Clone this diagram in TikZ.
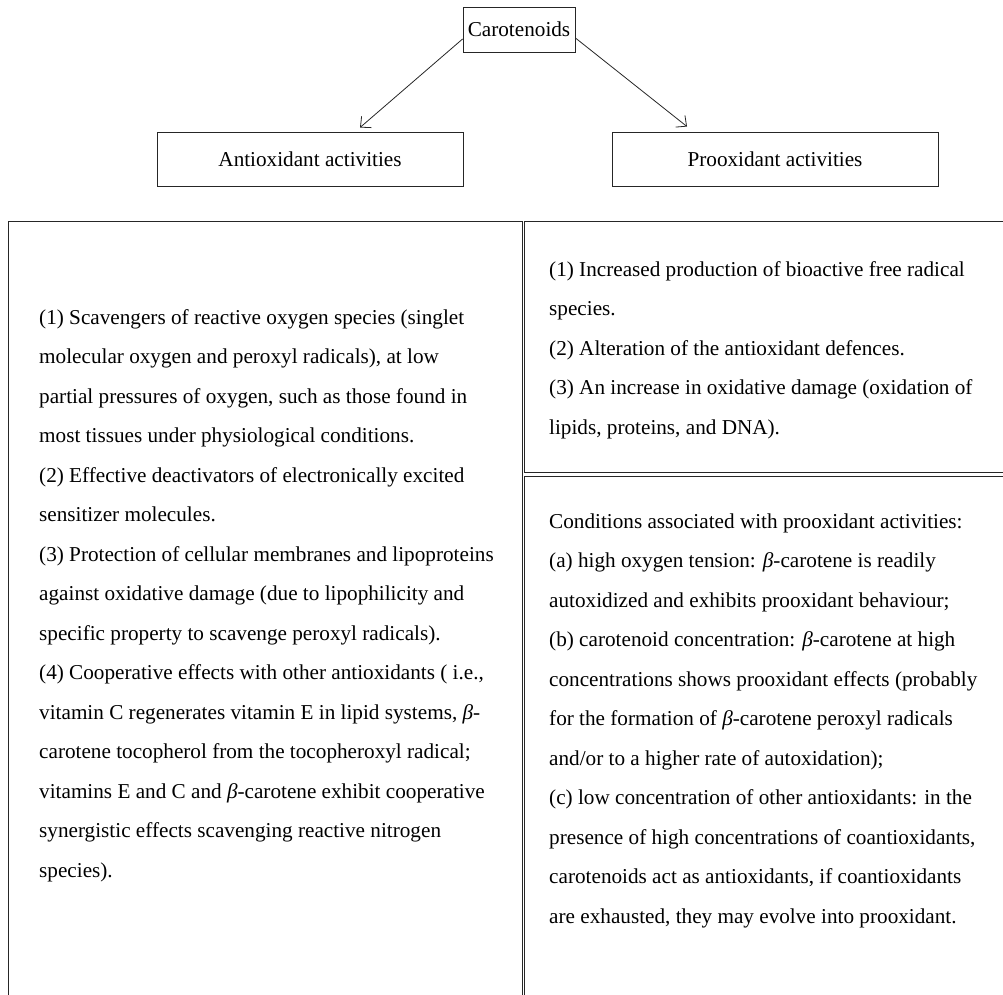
\documentclass[tikz,border=0pt]{standalone}
\usepackage{fontspec}
\setmainfont{Liberation Serif}
\usetikzlibrary{arrows.meta}
\newcommand{\bet}{\textit{β}}
\begin{document}
\begin{tikzpicture}[x=1pt,y=-1pt,
  box/.style={draw=black!85, line width=0.9pt, inner sep=0pt, font=\fontsize{21.2pt}{25pt}\selectfont},
  panel/.style={draw=black!85, line width=0.9pt},
  txt/.style={anchor=base west, inner sep=0pt, font=\fontsize{21.2pt}{25pt}\selectfont},
  arr/.style={draw=black!85, line width=0.8pt, -{Straight Barb[length=8pt,width=15pt]}}]
\useasboundingbox (0,0) rectangle (1003,994);
\clip (0,0) rectangle (1003,994);
% top boxes
\node[box, minimum width=112pt, minimum height=45pt] (caro) at (519,29.5) {Carotenoids};
\node[box, minimum width=306pt, minimum height=54pt] (anti) at (310,159) {Antioxidant activities};
\node[box, minimum width=326pt, minimum height=54pt] (pro) at (775,159) {Prooxidant activities};
\draw[arr] ([yshift=-9.5pt]caro.west) -- ([xshift=50pt,yshift=4pt]anti.north);
\draw[arr] ([yshift=-8.5pt]caro.east) -- ([xshift=-88pt,yshift=5pt]pro.north);
% panels
\draw[panel] (8,221) rectangle (522,1010);
\draw[panel] (524.5,221) rectangle (1010,472);
\draw[panel] (524.5,476) rectangle (1010,1010);
% left text
\foreach \t [count=\i] in {
 {(1) Scavengers of reactive oxygen species (singlet},
 {molecular oxygen and peroxyl radicals), at low},
 {partial pressures of oxygen, such as those found in},
 {most tissues under physiological conditions.},
 {(2) Effective deactivators of electronically excited},
 {sensitizer molecules.},
 {(3) Protection of cellular membranes and lipoproteins},
 {against oxidative damage (due to lipophilicity and},
 {specific property to scavenge peroxyl radicals).},
 {(4) Cooperative effects with other antioxidants ( i.e.,},
 {vitamin C regenerates vitamin E in lipid systems, \bet-},
 {carotene tocopherol from the tocopheroxyl radical;},
 {vitamins E and C and \bet-carotene exhibit cooperative},
 {synergistic effects scavenging reactive nitrogen},
 {species).}}
 \node[txt] (l\i) at (39, 324+39.5*\i-39.5) {\t};
% right upper text
\foreach \t [count=\i] in {
 {(1) Increased production of bioactive free radical},
 {species.},
 {(2) Alteration of the antioxidant defences.},
 {(3) An increase in oxidative damage (oxidation of},
 {lipids, proteins, and DNA).}}
 \node[txt] (u\i) at (549, 276+39.5*\i-39.5) {\t};
% right lower text
\foreach \t [count=\i] in {
 {Conditions associated with prooxidant activities:},
 {(a) high oxygen tension: \bet-carotene is readily},
 {autoxidized and exhibits prooxidant behaviour;},
 {(b) carotenoid concentration: \bet-carotene at high},
 {concentrations shows prooxidant effects (probably},
 {for the formation of \bet-carotene peroxyl radicals},
 {and/or to a higher rate of autoxidation);},
 {(c) low concentration of other antioxidants: in the},
 {presence of high concentrations of coantioxidants,},
 {carotenoids act as antioxidants, if coantioxidants},
 {are exhausted, they may evolve into prooxidant.}}
 \node[txt] (d\i) at (549, 528+39.5*\i-39.5) {\t};
\end{tikzpicture}
\end{document}
